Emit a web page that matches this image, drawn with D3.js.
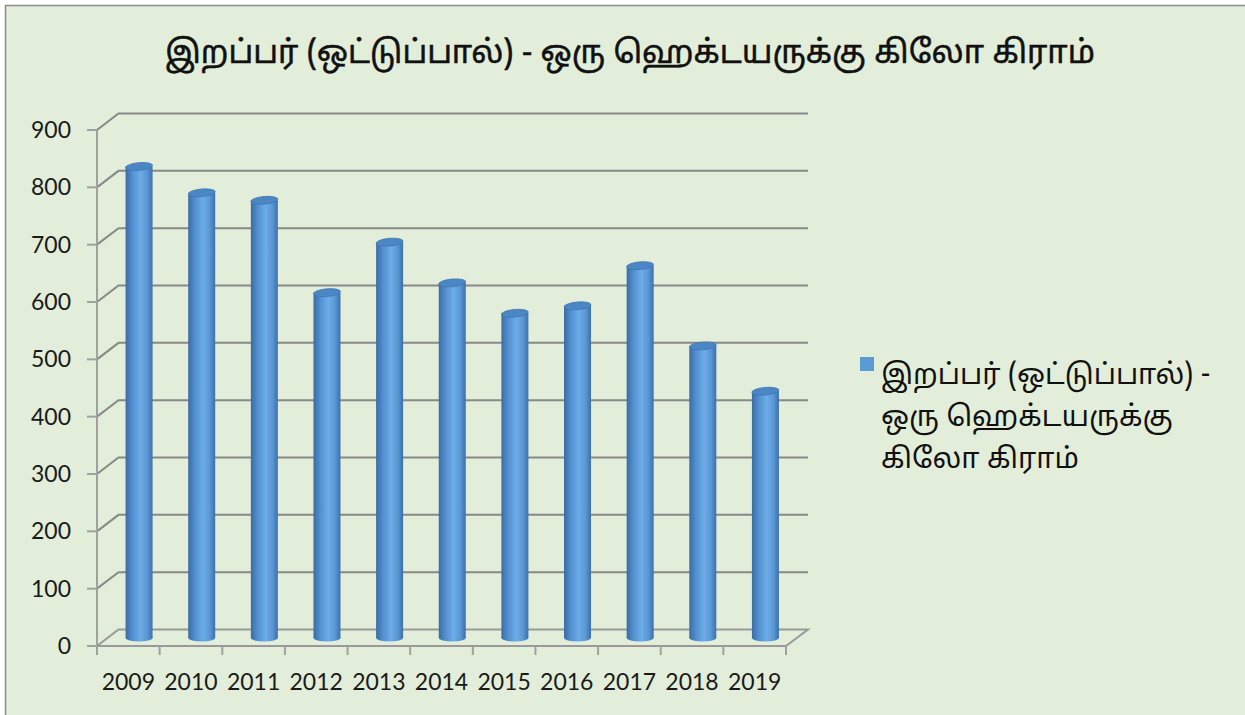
<!DOCTYPE html>
<html>
<head>
<meta charset="utf-8">
<script src="https://cdnjs.cloudflare.com/ajax/libs/d3/7.8.5/d3.min.js"></script>
<style>
  body { margin: 0; background: #fff; }
  text { font-family: Lato, "Liberation Sans", sans-serif; }
  .ta { font-family: Latha, "Noto Sans Tamil", "Noto Sans", "DejaVu Sans", sans-serif; }
</style>
</head>
<body>
<div id="chart"></div>
<script>
// data
const years = ["2009", "2010", "2011", "2012", "2013", "2014", "2015", "2016", "2017", "2018", "2019"];
const values = [822, 776, 763, 602, 690, 619, 566, 579, 649, 509, 430];
const yTicks = [0, 100, 200, 300, 400, 500, 600, 700, 800, 900];
const titleText = "இறப்பர் (ஒட்டுப்பால்) - ஒரு ஹெக்டயருக்கு கிலோ கிராம்";
const legendLines = ["இறப்பர் (ஒட்டுப்பால்) -", "ஒரு ஹெக்டயருக்கு", "கிலோ கிராம்"];

const W = 1245, H = 715;
// 3d depth offset of the back wall
const dx = 21.5, dy = -16.5;

let svg = d3.select("#chart")
  .append("svg")
  .attr("width", W)
  .attr("height", H);

// chart area background + border
svg.append("rect")
  .attr("x", 5.5).attr("y", 5.5)
  .attr("width", W + 10).attr("height", H + 10)
  .attr("fill", "#e2eed9")
  .attr("stroke", "#8c8c8c")
  .attr("stroke-width", 1.5);

let defs = svg.append("defs");
let grad = defs.append("linearGradient").attr("id", "cyl").attr("x1", "0").attr("x2", "1").attr("y1", "0").attr("y2", "0");
grad.append("stop").attr("offset", "0%").attr("stop-color", "#3a6ca4");
grad.append("stop").attr("offset", "25%").attr("stop-color", "#5290cf");
grad.append("stop").attr("offset", "55%").attr("stop-color", "#6cace8");
grad.append("stop").attr("offset", "80%").attr("stop-color", "#5a97d4");
grad.append("stop").attr("offset", "100%").attr("stop-color", "#3d70a9");

let x = d3.scaleBand()
  .domain(years)
  .range([97, 786]);

let y = d3.scaleLinear()
  .domain([0, 900])
  .range([646, 130]);

// gridlines on the side and back wall
svg.selectAll(".grid")
  .data(yTicks.filter(t => t > 0))
  .enter()
  .append("path")
  .attr("class", "grid")
  .attr("d", t => `M97,${y(t)} L${97 + dx},${y(t) + dy} L808,${y(t) + dy}`)
  .attr("fill", "none")
  .attr("stroke", "#888888")
  .attr("stroke-width", 2);

// floor
svg.append("path")
  .attr("d", `M97,${y(0)} L${97 + dx},${y(0) + dy} L808,${y(0) + dy} L786,${y(0)} Z`)
  .attr("fill", "none")
  .attr("stroke", "#999999")
  .attr("stroke-width", 2);

// y axis line and ticks
svg.append("line")
  .attr("x1", 97).attr("x2", 97)
  .attr("y1", y(0)).attr("y2", y(900))
  .attr("stroke", "#a0a0a0").attr("stroke-width", 2);

svg.selectAll(".ytick")
  .data(yTicks)
  .enter()
  .append("line")
  .attr("x1", 87).attr("x2", 97)
  .attr("y1", d => y(d)).attr("y2", d => y(d))
  .attr("stroke", "#a0a0a0").attr("stroke-width", 2);

svg.selectAll(".ylab")
  .data(yTicks)
  .enter()
  .append("text")
  .attr("x", 71)
  .attr("y", d => y(d) + 8)
  .attr("text-anchor", "end")
  .attr("font-size", 23)
  .attr("fill", "#1a1a1a")
  .text(d => d);

// x axis ticks at category boundaries
svg.selectAll(".xtick")
  .data(years.concat(["end"]))
  .enter()
  .append("line")
  .attr("x1", (d, i) => 97 + i * x.bandwidth())
  .attr("x2", (d, i) => 97 + i * x.bandwidth())
  .attr("y1", y(0)).attr("y2", y(0) + 9)
  .attr("stroke", "#a0a0a0").attr("stroke-width", 2);

svg.selectAll(".xlab")
  .data(years)
  .enter()
  .append("text")
  .attr("x", d => x(d) + x.bandwidth() / 2)
  .attr("y", 690)
  .attr("text-anchor", "middle")
  .attr("font-size", 23)
  .attr("fill", "#1a1a1a")
  .text(d => d);

// cylinders
const r = 13.5, ry = 3.8;
let bars = svg.selectAll(".bar")
  .data(years.map((d, i) => ({ year: d, value: values[i] })))
  .enter()
  .append("g")
  .attr("class", "bar");

const cx = d => x(d.year) + x.bandwidth() / 2 + dx / 2;
const base = y(0) + dy / 2;

bars.append("ellipse")
  .attr("cx", cx)
  .attr("cy", base)
  .attr("rx", r).attr("ry", ry)
  .attr("fill", "url(#cyl)");

bars.append("rect")
  .attr("x", d => cx(d) - r)
  .attr("y", d => y(d.value) + dy / 2)
  .attr("width", 2 * r)
  .attr("height", d => base - (y(d.value) + dy / 2))
  .attr("fill", "url(#cyl)");

bars.append("ellipse")
  .attr("cx", cx)
  .attr("cy", d => y(d.value) + dy / 2)
  .attr("rx", r).attr("ry", ry)
  .attr("transform", d => `rotate(-5,${cx(d)},${y(d.value) + dy / 2})`)
  .attr("fill", "#4c87c5")
  .attr("stroke", "#3f77b3")
  .attr("stroke-width", 0.8);

// title
svg.append("text")
  .attr("class", "ta")
  .attr("x", 630)
  .attr("y", 63)
  .attr("text-anchor", "middle")
  .attr("font-size", 31.8)
  .attr("fill", "#111")
  .style("stroke", "#111")
  .style("stroke-width", 0.5)
  .text(titleText);

// legend
svg.append("rect")
  .attr("x", 860).attr("y", 357)
  .attr("width", 14).attr("height", 14)
  .attr("fill", "#5b9bd5");

svg.selectAll(".leg")
  .data(legendLines)
  .enter()
  .append("text")
  .attr("class", "ta")
  .attr("x", 881)
  .attr("y", (d, i) => 384 + i * 42)
  .attr("font-size", 28.5)
  .attr("fill", "#111")
  .text(d => d);
</script>
</body>
</html>
